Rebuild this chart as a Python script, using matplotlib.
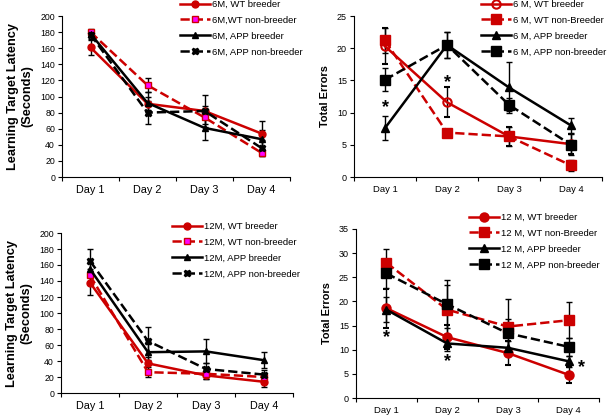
import matplotlib
matplotlib.use("Agg")
from matplotlib import pyplot as plt
import numpy as np

plt.rcParams['font.family'] = ['Liberation Sans', 'DejaVu Sans']

days = ["Day 1", "Day 2", "Day 3", "Day 4"]

# 6 month latency [WT breeder, WT non-breeder, APP breeder, APP non-breeder]
lat6_labels = ["6M, WT breeder", "6M,WT non-breeder", "6M, APP breeder", "6M, APP non-breeder"]
lat6_wtb = [161, 91, 82, 54]
lat6_wtnb = [180, 114, 74, 30]
lat6_appb = [178, 92, 61, 47]
lat6_appnb = [177, 80, 82, 36]
lat6_err_wtb = [9, 8, 6, 15]
lat6_err_wtnb = [4, 9, 8, 4]
lat6_err_appb = [4, 14, 15, 12]
lat6_err_appnb = [5, 14, 20, 10]

# 6 month errors
err6_labels = ["6 M, WT breeder", "6 M, WT non-Breeder", "6 M, APP breeder", "6 M, APP non-breeder"]
err6_wtb = [20.3, 11.6, 6.3, 5.1]
err6_wtnb = [21.2, 6.9, 6.3, 1.8]
err6_appb = [7.6, 20.5, 13.9, 8.0]
err6_appnb = [15.1, 20.5, 11.2, 5.0]
err6_err_wtb = [2.8, 2.3, 1.5, 1.5]
err6_err_wtnb = [2.0, 0.6, 1.5, 0.8]
err6_err_appb = [1.8, 2.0, 4.0, 1.1]
err6_err_appnb = [1.8, 2.0, 1.0, 1.6]
# significance stars (x in category units, y in data units)
err6_stars = [(0.5, 10.8), (1.5, 14.6)]

# 12 month latency
lat12_labels = ["12M, WT breeder", "12M, WT non-breeder", "12M, APP breeder", "12M, APP non-breeder"]
lat12_wtb = [138, 37, 22, 14]
lat12_wtnb = [147, 26, 24, 20]
lat12_appb = [155, 51, 52, 41]
lat12_appnb = [165, 65, 30, 23]
lat12_err_wtb = [15, 8, 5, 7]
lat12_err_wtnb = [8, 6, 6, 5]
lat12_err_appb = [8, 10, 15, 10]
lat12_err_appnb = [15, 17, 8, 6]

# 12 month errors
err12_labels = ["12 M, WT breeder", "12 M, WT non-Breeder", "12 M, APP breeder", "12 M, APP non-breeder"]
err12_wtb = [18.6, 12.6, 9.3, 4.8]
err12_wtnb = [28.0, 18.3, 14.8, 16.1]
err12_appb = [18.3, 11.3, 10.4, 7.6]
err12_appnb = [25.8, 19.4, 13.4, 10.6]
err12_err_wtb = [4.0, 2.5, 2.5, 1.7]
err12_err_wtnb = [2.8, 5.0, 5.7, 3.7]
err12_err_appb = [2.6, 1.5, 1.5, 1.2]
err12_err_appnb = [3.0, 5.0, 3.0, 1.9]
err12_stars = [(0.5, 12.5), (1.5, 7.6), (3.72, 6.4)]

red = '#cc0000'


def draw_panel(ax, series, errs, labels, ymax, ystep, ylabel, ylabel_size,
               tick_size, ytick_size, leg_anchor, star_pos, kind):
    x = np.arange(len(days)) + 0.5
    if kind == 'latency':
        styles = [
            dict(color=red, ls='-', marker='o', mfc=red, mec=red, ms=5),
            dict(color=red, ls='--', marker='s', mfc='#ff00ff', mec=red, ms=5),
            dict(color='black', ls='-', marker='^', mfc='black', mec='black', ms=5),
            dict(color='black', ls='--', marker='X', mfc='black', mec='black', ms=5),
        ]
    else:
        wt_face = 'none' if kind == 'errors6' else red
        styles = [
            dict(color=red, ls='-', marker='o', mfc=wt_face, mec=red, mew=1.5, ms=6),
            dict(color=red, ls='--', marker='s', mfc=red, mec=red, ms=6.5),
            dict(color='black', ls='-', marker='^', mfc='black', mec='black', ms=6),
            dict(color='black', ls='--', marker='s', mfc='black', mec='black', ms=6.5),
        ]
    handles = []
    for vals, err, lab, st in zip(series, errs, labels, styles):
        c = ax.errorbar(x, vals, yerr=err, ecolor='black', elinewidth=1, capsize=2.5,
                        capthick=1, lw=1.8, label=lab, **st)
        handles.append(c.lines[0])
    for sx, sy in star_pos:
        ax.text(sx, sy, '*', ha='center', va='center', fontsize=13,
                fontweight='bold')
    ax.set_xlim(0, 4)
    ax.set_ylim(0, ymax)
    ax.set_yticks(np.arange(0, ymax + 0.01, ystep))
    ax.set_xticks([0, 1, 2, 3, 4])
    ax.set_xticklabels([])
    ax.set_xticks(x, minor=True)
    ax.set_xticklabels(days, minor=True, fontsize=tick_size)
    ax.tick_params(axis='x', which='minor', length=0, pad=6)
    ax.tick_params(axis='x', which='major', length=3, direction='out')
    ax.tick_params(axis='y', labelsize=ytick_size, length=3, pad=2)
    for s in ['top', 'right']:
        ax.spines[s].set_visible(False)
    ax.set_ylabel(ylabel, fontsize=ylabel_size, fontweight='bold', labelpad=5)
    ax.legend(handles, labels, loc='upper left', bbox_to_anchor=leg_anchor,
              bbox_transform=ax.figure.transFigure, frameon=False,
              fontsize=6.8, handlelength=3.2, handletextpad=0.2,
              borderpad=0, borderaxespad=0, labelspacing=0.72)


fig = plt.figure(figsize=(6.08, 4.15), dpi=100)

ax1 = fig.add_axes([62/608, 1 - 177/415, 228/608, 161/415])
draw_panel(ax1, [lat6_wtb, lat6_wtnb, lat6_appb, lat6_appnb],
           [lat6_err_wtb, lat6_err_wtnb, lat6_err_appb, lat6_err_appnb],
           lat6_labels, 200, 20, "Learning Target Latency\n(Seconds)", 9.2, 7.8, 6.3,
           (180/608, 1.0), [], 'latency')

ax2 = fig.add_axes([354/608, 1 - 177/415, 248/608, 161/415])
draw_panel(ax2, [err6_wtb, err6_wtnb, err6_appb, err6_appnb],
           [err6_err_wtb, err6_err_wtnb, err6_err_appb, err6_err_appnb],
           err6_labels, 25, 5, "Total Errors", 7.9, 6.8, 6.5,
           (481/608, 1.0), err6_stars, 'errors6')

ax3 = fig.add_axes([61/608, 1 - 393/415, 232/608, 160/415])
draw_panel(ax3, [lat12_wtb, lat12_wtnb, lat12_appb, lat12_appnb],
           [lat12_err_wtb, lat12_err_wtnb, lat12_err_appb, lat12_err_appnb],
           lat12_labels, 200, 20, "Learning Target Latency\n(Seconds)", 9.2, 7.8, 6.3,
           (172/608, 1 - 222/415), [], 'latency')

ax4 = fig.add_axes([356/608, 1 - 398/415, 243/608, 169/415])
draw_panel(ax4, [err12_wtb, err12_wtnb, err12_appb, err12_appnb],
           [err12_err_wtb, err12_err_wtnb, err12_err_appb, err12_err_appnb],
           err12_labels, 35, 5, "Total Errors", 7.9, 6.8, 6.5,
           (469/608, 1 - 213/415), err12_stars, 'errors12')

fig.savefig("out.png", dpi=100)
